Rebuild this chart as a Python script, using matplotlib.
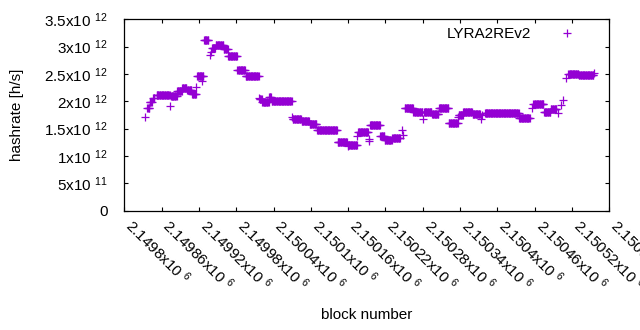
import numpy as np
import matplotlib
matplotlib.use('Agg')
import matplotlib.pyplot as plt
from matplotlib.ticker import FuncFormatter, FixedLocator

plt.rcParams['font.family'] = ['Liberation Sans', 'DejaVu Sans']
plt.rcParams['mathtext.fontset'] = 'custom'
plt.rcParams['mathtext.rm'] = 'Liberation Sans'
plt.rcParams['mathtext.it'] = 'Liberation Sans:italic'
plt.rcParams['mathtext.bf'] = 'Liberation Sans:bold'

# ---- data: runs of blocks with a constant hashrate ----
BASE_BLOCK = 2149800
run_first = [33, 37, 41, 46, 52, 74, 75, 85, 93, 101, 109, 116, 117, 125, 128, 138, 140,
             141, 147, 160, 167, 182, 195, 217, 218, 222, 233, 237, 270, 271, 285, 298,
             310, 343, 359, 360, 375, 376, 393, 394, 395, 412, 419, 431, 446, 448, 451,
             465, 481, 482, 495, 506, 522, 537, 538, 545, 560, 573, 576, 580, 635, 655,
             658, 675, 686, 698, 703, 706, 711, 714, 731, 755]
run_last = [33, 40, 44, 48, 73, 74, 84, 92, 100, 108, 115, 116, 127, 125, 135, 138, 140,
            146, 159, 166, 181, 194, 216, 217, 221, 232, 236, 269, 270, 284, 297, 309,
            342, 358, 359, 374, 375, 392, 393, 394, 411, 418, 430, 443, 446, 448, 464,
            479, 481, 494, 505, 521, 536, 537, 544, 559, 572, 573, 576, 634, 652, 655,
            674, 685, 695, 698, 703, 706, 711, 730, 754, 755]
run_hashrate_e12 = [1.71, 1.88, 1.99, 2.07, 2.12, 1.91, 2.10, 2.18, 2.25, 2.21, 2.13, 2.26,
                    2.47, 2.38, 3.12, 2.85, 2.91, 2.98, 3.03, 2.96, 2.82, 2.58, 2.47, 2.07,
                    2.04, 1.99, 2.08, 2.00, 1.72, 1.68, 1.64, 1.58, 1.48, 1.26, 1.18, 1.21,
                    1.37, 1.43, 1.31, 1.28, 1.57, 1.37, 1.29, 1.33, 1.47, 1.39, 1.87, 1.80,
                    1.67, 1.80, 1.77, 1.87, 1.61, 1.72, 1.75, 1.80, 1.77, 1.67, 1.75, 1.78,
                    1.70, 1.87, 1.95, 1.81, 1.86, 1.78, 1.93, 2.02, 2.42, 2.50, 2.48, 2.52]
series_label = 'LYRA2REv2'

blocks = np.concatenate([np.arange(a, b + 1) for a, b in zip(run_first, run_last)]) + BASE_BLOCK
hashrate = np.concatenate([np.full(b - a + 1, v) for a, b, v in
                           zip(run_first, run_last, run_hashrate_e12)]) * 1e12

x_ticks = np.arange(2149800, 2150581, 60)
y_ticks = np.arange(0, 3.51e12, 0.5e12)

# ---- figure ----
fig = plt.figure(figsize=(6.4, 3.3), dpi=100)
ax = fig.add_axes([124.3 / 640, 1 - 210.7 / 330, 485 / 640, 191.4 / 330])

color = '#9400D3'
ax.plot(blocks, hashrate, linestyle='none', marker='+', markersize=6,
        markeredgewidth=0.9, color=color, label=series_label)

ax.set_xlim(2149800, 2150580)
ax.set_ylim(0, 3.5e12)
ax.xaxis.set_major_locator(FixedLocator(x_ticks))
ax.yaxis.set_major_locator(FixedLocator(y_ticks))


def sci(v, pos=None):
    if v == 0:
        return '0'
    e = int(np.floor(np.log10(abs(v)) + 1e-9))
    m = v / 10 ** e
    return '%sx10 $^{%d}$' % (('%.6g' % m), e)


ax.xaxis.set_major_formatter(FuncFormatter(sci))
ax.yaxis.set_major_formatter(FuncFormatter(sci))

ax.tick_params(which='both', direction='in', top=True, right=True, length=3,
               width=0.8, labelsize=11, colors='black')
ax.tick_params(axis='x', pad=11.5)
ax.tick_params(axis='y', pad=12)
for lab in ax.get_xticklabels():
    lab.set_rotation(-45)
    lab.set_ha('left')
    lab.set_va('baseline')
    lab.set_rotation_mode('anchor')
for sp in ax.spines.values():
    sp.set_linewidth(0.9)

fig.text(17 / 640, 1 - 115 / 330, 'hashrate [h/s]', rotation=90, ha='center',
         va='center', fontsize=11)
fig.text(366.8 / 640, 1 - 315 / 330, 'block number', ha='center', va='center',
         fontsize=11)

ax.legend(loc='upper right', bbox_to_anchor=(0.944, 0.958), markerfirst=False,
          frameon=False, fontsize=11, borderaxespad=0, borderpad=0,
          handlelength=2, handletextpad=1.35, markerscale=1.0)

fig.savefig('out.png', dpi=100)
